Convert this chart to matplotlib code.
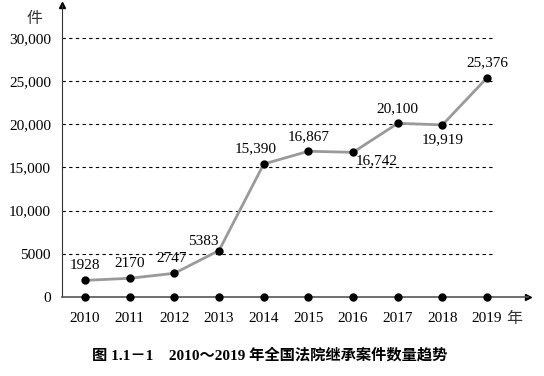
import matplotlib
matplotlib.use("Agg")
import matplotlib.pyplot as plt

plt.rcParams["font.family"] = ["Liberation Serif", "Noto Sans CJK SC"]

years = ["2010", "2011", "2012", "2013", "2014", "2015", "2016", "2017", "2018", "2019"]
cases = [1928, 2170, 2747, 5383, 15390, 16867, 16742, 20100, 19919, 25376]
value_labels = ["1928", "2170", "2747", "5383", "15,390", "16,867", "16,742", "20,100", "19,919", "25,376"]
y_ticks = [0, 5000, 10000, 15000, 20000, 25000, 30000]
y_tick_labels = ["0", "5000", "10,000", "15,000", "20,000", "25,000", "30,000"]

# label offsets (points) relative to each data point
label_offsets = [(0, 6, "center", "bottom"), (0, 6, "center", "bottom"),
                 (-2, 6, "center", "bottom"), (-11, 2, "center", "bottom"),
                 (-6, 6, "center", "bottom"), (0, 6, "center", "bottom"),
                 (2, -1, "left", "top"), (0, 6, "center", "bottom"),
                 (0, -6, "center", "top"), (0, 6, "center", "bottom")]

fig = plt.figure(figsize=(5.44, 3.76), dpi=100)
fig.set_facecolor("white")
ax = fig.add_axes([0.114, 0.21, 0.857, 0.777])

x = list(range(len(years)))
ax.set_xlim(-0.515, 9.92)
ax.set_ylim(0, 33800)

for t in y_ticks[1:]:
    ax.plot([-0.515, 9.13], [t, t], color="black", lw=0.8, ls=(0, (3, 3)), zorder=1)

ax.plot(x, cases, color="#9a9a9a", lw=2, zorder=2)
ax.plot(x, cases, "o", color="black", ms=5, zorder=3)
ax.plot(x, [0] * len(x), "o", color="black", ms=5, zorder=3, clip_on=False)

for xi, v, lab, (dx, dy, ha, va) in zip(x, cases, value_labels, label_offsets):
    ax.annotate(lab, (xi, v), xytext=(dx, dy), textcoords="offset points",
                ha=ha, va=va, fontsize=11)

for side in ["top", "right"]:
    ax.spines[side].set_visible(False)
ax.spines["left"].set_color("#333333")
ax.spines["bottom"].set_color("#555555")
ax.spines["bottom"].set_linewidth(1.2)

ax.set_xticks(x)
ax.set_xticklabels(years, fontsize=11)
ax.set_yticks(y_ticks)
ax.set_yticklabels(y_tick_labels, fontsize=11)
ax.tick_params(length=0, pad=8)
ax.tick_params(axis="x", pad=11)

# axis arrows
ax.plot(1, 0, ">", color="black", ms=5, transform=ax.transAxes, clip_on=False)
ax.plot(0, 1, "^", color="black", ms=5, transform=ax.transAxes, clip_on=False)

fig.text(35 / 544, 1 - 19 / 376, "件", fontsize=11.5, ha="center", va="center",
         family=["Noto Sans CJK SC"], color="#333333")
fig.text(514 / 544, 1 - 318 / 376, "年", fontsize=11.5, ha="center", va="center",
         family=["Noto Sans CJK SC"], color="#333333")

fig.text(270 / 544, 1 - 355 / 376, "图 1.1－1    2010～2019 年全国法院继承案件数量趋势",
         fontsize=11, ha="center", va="center", weight="bold",
         family=["Liberation Serif", "Noto Sans CJK SC"])

fig.savefig("out.png", dpi=100, facecolor="white")
